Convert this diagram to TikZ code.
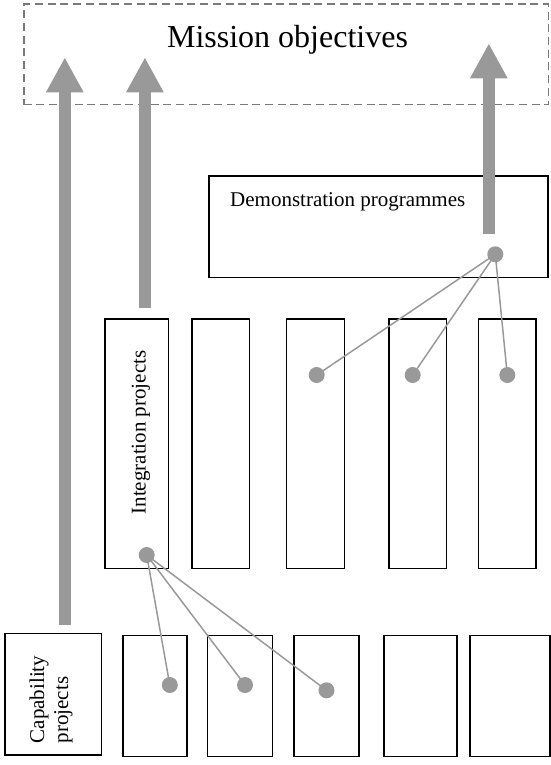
\documentclass[tikz,border=0pt]{standalone}
\usepackage{fontspec}
\setmainfont{Liberation Serif}
\usetikzlibrary{arrows.meta}
\definecolor{arrgray}{HTML}{999999}
\definecolor{dashgray}{HTML}{7A7A7A}
\begin{document}
\begin{tikzpicture}[x=1pt,y=-1pt,
  box/.style={draw=black,line width=1.6pt,inner sep=0pt,rectangle},
  dashbox/.style={draw=dashgray,line width=1.6pt,dash pattern=on 8pt off 4.7pt,inner sep=0pt,rectangle},
  dot/.style={circle,fill=arrgray,inner sep=0pt,minimum size=16pt},
  link/.style={draw=arrgray,line width=1.5pt},
  bigarrow/.style={draw=arrgray,line width=11.5pt,-{Triangle[width=35pt,length=35pt,fill=arrgray]}},
  lbl/.style={font=\fontsize{21}{24}\selectfont,inner sep=0pt}
]
\useasboundingbox (0,0) rectangle (551,765);
% mission objectives
\node[dashbox,minimum width=524.6pt,minimum height=100.4pt] (mission) at (286,54.5) {};
\node[font=\fontsize{32}{36}\selectfont,anchor=base,inner sep=0pt] (missiontxt) at (287.5,47.5) {Mission objectives};
% demonstration
\node[box,minimum width=338.7pt,minimum height=101.3pt] (demo) at (378.4,226.7) {};
\node[lbl,anchor=base west] (demotxt) at (230,206.7) {Demonstration programmes};
% integration row
\node[box,minimum width=63.3pt,minimum height=249.3pt] (int) at (136.7,443.7) {};
\node[lbl,rotate=90] (inttxt) at (141,432.5) {Integration projects};
\node[box,minimum width=57.7pt,minimum height=249.3pt] (m2) at (220.8,443.7) {};
\node[box,minimum width=57.7pt,minimum height=249.3pt] (m3) at (315.5,443.7) {};
\node[box,minimum width=57.7pt,minimum height=249.3pt] (m4) at (417.8,443.7) {};
\node[box,minimum width=57.7pt,minimum height=249.3pt] (m5) at (507.2,443.7) {};
% capability row
\node[box,minimum width=96.7pt,minimum height=121.7pt] (cap) at (53.3,694.2) {};
\node[lbl,rotate=90,align=left] (captxt) at (51,699.5) {Capability\\projects};
\node[box,minimum width=64pt,minimum height=121pt] (b2) at (155,696) {};
\node[box,minimum width=64.7pt,minimum height=121pt] (b3) at (240,696) {};
\node[box,minimum width=64.7pt,minimum height=121pt] (b4) at (326.5,696) {};
\node[box,minimum width=72.7pt,minimum height=121pt] (b5) at (420.5,696) {};
\node[box,minimum width=80pt,minimum height=121pt] (b6) at (510,696) {};
% dots
\coordinate (dd) at (495.3,254.3);
\coordinate (d3) at (316.7,375);
\coordinate (d4) at (412.7,375);
\coordinate (d5) at (507.3,375);
\coordinate (di) at (146.7,555);
\coordinate (e2) at (169.8,685);
\coordinate (e3) at (245,685);
\coordinate (e4) at (326.5,690.3);
\draw[link] (dd) -- (d3) (dd) -- (d4) (dd) -- (d5);
\draw[link] (di) -- (e2) (di) -- (e3) (di) -- (e4);
\foreach \p in {dd,d3,d4,d5,di,e2,e3,e4} \node[dot] (n\p) at (\p) {};
% big arrows
\coordinate (a1s) at (64.8,625);
\coordinate (a1t) at (64.8,57.3);
\coordinate (a2s) at (144.9,308);
\coordinate (a2t) at (144.9,57.3);
\coordinate (a3s) at (488.8,234);
\coordinate (a3t) at (488.8,43.3);
\draw[bigarrow] (a1s) -- (a1t);
\draw[bigarrow] (a2s) -- (a2t);
\draw[bigarrow] (a3s) -- (a3t);
\end{tikzpicture}
\end{document}
